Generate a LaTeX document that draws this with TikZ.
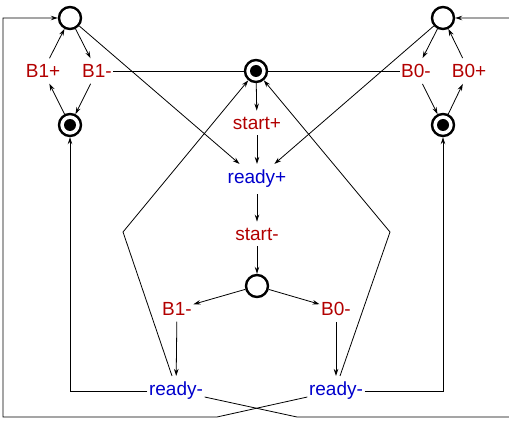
\documentclass[tikz,border=0pt]{standalone}
\usepackage{fontspec}
\setmainfont{Liberation Sans}
\usetikzlibrary{arrows.meta}
\definecolor{trred}{RGB}{178,0,0}
\definecolor{rdblue}{RGB}{0,0,204}
\tikzset{
  place/.style={circle,draw,line width=2.4pt,minimum size=22pt,inner sep=0pt},
  mplace/.style={place,path picture={\fill (path picture bounding box.center) circle (6pt);}},
  trans/.style={text=trred,inner xsep=1.5pt,inner ysep=6pt,font=\fontsize{19}{22}\selectfont},
  rdy/.style={trans,text=rdblue},
  arc/.style={line width=0.8pt,-{Stealth[length=7pt,width=4.5pt]}},
  link/.style={line width=0.8pt}
}
\begin{document}
\begin{tikzpicture}[x=1pt,y=-1pt]
  \useasboundingbox (0,0) rectangle (509,422);
  % places
  \node[place] (pl) at (70,18) {}; \node[place] (pr) at (443,18) {};
  \node[mplace] (ml) at (70,125) {}; \node[mplace] (mr) at (443,125) {};
  \node[mplace] (pc) at (256,71) {}; \node[place] (pb) at (257,286) {};
  % transitions
  \node[trans] (bpl) at (43,71) {B1+}; \node[trans] (bml) at (97,71) {B1-};
  \node[trans] (bmr) at (416,71) {B0-}; \node[trans] (bpr) at (469,71) {B0+};
  \node[trans] (sp) at (257,123) {start+}; \node[rdy] (rp) at (257,179) {ready+};
  \node[trans] (sm) at (257,234) {start-};
  \node[trans] (bmb) at (177,309) {B1-}; \node[trans] (bnb) at (336,309) {B0-};
  \node[rdy] (rl) at (176,391) {ready-}; \node[rdy] (rr) at (336,391) {ready-};
  % bends
  \coordinate (kl) at (123,232); \coordinate (kr) at (390,232);
  \coordinate (cxl) at (217,417); \coordinate (cxr) at (297,417);
  \coordinate (el) at (3,417); \coordinate (er) at (511,417);
  % left and right loops
  \draw[arc] (pl) -- (bml); \draw[arc] (bml) -- (ml); \draw[arc] (ml) -- (bpl); \draw[arc] (bpl) -- (pl);
  \draw[arc] (pr) -- (bmr); \draw[arc] (bmr) -- (mr); \draw[arc] (mr) -- (bpr); \draw[arc] (bpr) -- (pr);
  \draw[link] (bml) -- (pc); \draw[link] (pc) -- (bmr);
  % middle column
  \draw[arc] (pc) -- (sp); \draw[arc] (sp) -- (rp); \draw[arc] (rp) -- (sm); \draw[arc] (sm) -- (pb);
  \draw[arc] (pl) -- (rp); \draw[arc] (pr) -- (rp);
  \draw[arc] (pb) -- (bmb); \draw[arc] (pb) -- (bnb);
  \draw[arc] (bmb) -- (rl); \draw[arc] (bnb) -- (rr);
  \draw[arc] ([xshift=-4pt]rl.north) -- (kl) -- (pc);
  \draw[arc] ([xshift=4pt]rr.north) -- (kr) -- (pc);
  \draw[arc] (rl.west) -| (ml); \draw[arc] (rr.east) -| (mr);
  % crossing returns
  \draw[arc] ([yshift=-6pt]rl.east) -- (cxr) -- (er) |- (pr);
  \draw[arc] ([yshift=-6pt]rr.west) -- (cxl) -- (el) |- (pl);
\end{tikzpicture}
\end{document}
